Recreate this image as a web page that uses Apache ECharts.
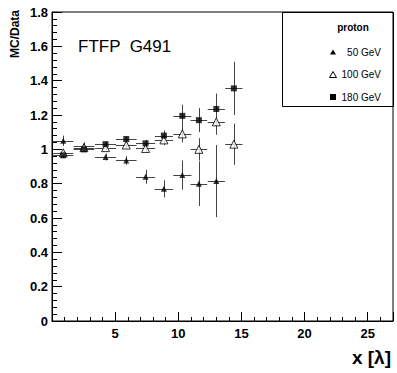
<!DOCTYPE html>
<html><head><meta charset="utf-8">
<script src="https://cdn.jsdelivr.net/npm/echarts@6/dist/echarts.min.js"></script>
<style>html,body{margin:0;padding:0;background:#fff}#c{width:397px;height:373px}</style>
</head><body><div id="c"></div>
<script>
var xPos   = [0.89, 2.53, 4.24, 5.88, 7.41, 8.86, 10.32, 11.63, 13.01, 14.4];
var xErr   = [0.8, 0.82, 0.84, 0.82, 0.76, 0.72, 0.72, 0.66, 0.68, 0.68];
var p50    = [1.05, 1.02, 0.955, 0.935, 0.84, 0.77, 0.85, 0.80, 0.815];
var p50e   = [0.03, 0.02, 0.02, 0.025, 0.04, 0.05, 0.085, 0.13, 0.21];
var p100   = [0.98, 1.01, 1.01, 1.025, 1.005, 1.055, 1.09, 1.0, 1.16, 1.03];
var p100e  = [0.015, 0.015, 0.015, 0.02, 0.02, 0.03, 0.05, 0.065, 0.075, 0.12];
var p180   = [0.965, 1.0, 1.03, 1.06, 1.035, 1.08, 1.195, 1.17, 1.235, 1.355];
var p180e  = [0.015, 0.015, 0.015, 0.015, 0.02, 0.03, 0.065, 0.07, 0.09, 0.155];
var legendTitle = 'proton';
var seriesNames = ['50 GeV', '100 GeV', '180 GeV'];
var modelLabel = 'FTFP  G491';
var yTitle = 'MC/Data';
var xTitle = 'x [λ]';

function pts(vals, errs) {
  return vals.map(function (v, i) { return [xPos[i], v, xErr[i], errs[i]]; });
}
function errSeries(data) {
  return {
    type: 'custom', data: data, z: 2, silent: true,
    renderItem: function (params, api) {
      var x = api.value(0), y = api.value(1), xe = api.value(2), ye = api.value(3);
      var l = api.coord([x - xe, y]), r = api.coord([x + xe, y]);
      var t = api.coord([x, y + ye]), b = api.coord([x, y - ye]);
      var st = { stroke: '#444', lineWidth: 1 };
      return { type: 'group', children: [
        { type: 'line', shape: { x1: l[0], y1: Math.round(l[1]) + 0.5, x2: r[0], y2: Math.round(r[1]) + 0.5 }, style: st },
        { type: 'line', shape: { x1: Math.round(t[0]) + 0.5, y1: t[1], x2: Math.round(b[0]) + 0.5, y2: b[1] }, style: st }
      ]};
    }
  };
}
var d50 = pts(p50, p50e), d100 = pts(p100, p100e), d180 = pts(p180, p180e);
var FF = 'Liberation Sans, Arial, sans-serif';
var bold = { fontFamily: FF, fontWeight: 'bold', fontSize: 13, color: '#000' };

var chart = echarts.init(document.getElementById('c'), null, { renderer: 'svg' });
chart.setOption({
  animation: false,
  grid: { left: 52, right: 4, top: 12, bottom: 52, show: true, borderColor: '#000', borderWidth: 1,
    containLabel: false, outerBoundsMode: 'none' },
  xAxis: {
    type: 'value', min: 0, max: 27, interval: 5,
    axisLine: { show: true, onZero: false, lineStyle: { color: '#000' } },
    axisTick: { show: true, inside: true, length: 9, lineStyle: { color: '#000' } },
    minorTick: { show: true, splitNumber: 5, length: 4, lineStyle: { color: '#000' } },
    splitLine: { show: false },
    axisLabel: Object.assign({ margin: 6, showMaxLabel: false, showMinLabel: false,
      formatter: function (v) { return (v % 5 === 0 && v !== 0) ? String(v) : ''; } }, bold)
  },
  yAxis: {
    type: 'value', min: 0, max: 1.8, interval: 0.2,
    axisLine: { show: true, onZero: false, lineStyle: { color: '#000' } },
    axisTick: { show: true, inside: true, length: 10, lineStyle: { color: '#000' } },
    minorTick: { show: true, splitNumber: 5, length: 5, lineStyle: { color: '#000' } },
    splitLine: { show: false },
    axisLabel: Object.assign({ margin: 4 }, bold)
  },
  series: [
    errSeries(d50), errSeries(d100), errSeries(d180),
    { type: 'scatter', name: seriesNames[0], data: d50, symbol: 'triangle', symbolSize: 6, z: 5,
      itemStyle: { color: '#000' } },
    { type: 'scatter', name: seriesNames[1], data: d100, symbol: 'triangle', symbolSize: 8, z: 5,
      itemStyle: { color: '#fff', borderColor: '#000', borderWidth: 1 } },
    { type: 'scatter', name: seriesNames[2], data: d180, symbol: 'rect', symbolSize: 6, z: 5,
      itemStyle: { color: '#000' } }
  ],
  graphic: [
    { type: 'rect', shape: { x: 282.5, y: 12.5, width: 111, height: 94 }, style: { fill: 'none', stroke: '#000', lineWidth: 1 }, z: 10 },
    { type: 'text', x: 353, y: 27, style: { text: legendTitle, fontFamily: FF, fontWeight: 'bold', fontSize: 10, fill: '#000', align: 'center', verticalAlign: 'middle' }, z: 10 },
    { type: 'polygon', shape: { points: [[333, 49.5], [336, 54.5], [330, 54.5]] }, style: { fill: '#000' }, z: 10 },
    { type: 'polygon', shape: { points: [[333, 71.5], [336.5, 77.5], [329.5, 77.5]] }, style: { fill: '#fff', stroke: '#000', lineWidth: 1 }, z: 10 },
    { type: 'rect', shape: { x: 330, y: 94, width: 6, height: 6 }, style: { fill: '#000' }, z: 10 },
    { type: 'text', x: 381, y: 52, style: { text: seriesNames[0], fontFamily: FF, fontSize: 10, fill: '#000', align: 'right', verticalAlign: 'middle' }, z: 10 },
    { type: 'text', x: 381, y: 74.5, style: { text: seriesNames[1], fontFamily: FF, fontSize: 10, fill: '#000', align: 'right', verticalAlign: 'middle' }, z: 10 },
    { type: 'text', x: 381, y: 97, style: { text: seriesNames[2], fontFamily: FF, fontSize: 10, fill: '#000', align: 'right', verticalAlign: 'middle' }, z: 10 },
    { type: 'text', x: 78, y: 46, style: { text: modelLabel, fontFamily: FF, fontSize: 17, fill: '#000', align: 'left', verticalAlign: 'middle' }, z: 10 },
    { type: 'text', x: 15, y: 10, rotation: Math.PI / 2, style: { text: yTitle, fontFamily: FF, fontWeight: 'bold', fontSize: 12, fill: '#000', align: 'right', verticalAlign: 'middle' }, z: 10 },
    { type: 'text', x: 391, y: 357, style: { text: xTitle, fontFamily: FF, fontWeight: 'bold', fontSize: 19, fill: '#000', align: 'right', verticalAlign: 'middle' }, z: 10 }
  ]
});
</script></body></html>
